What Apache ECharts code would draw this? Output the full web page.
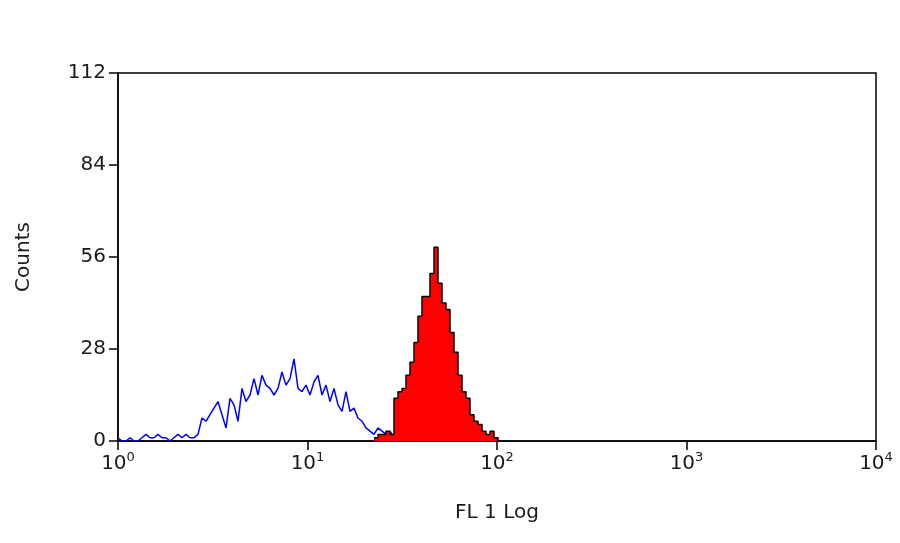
<!DOCTYPE html>
<html><head><meta charset="utf-8">
<script src="https://cdn.jsdelivr.net/npm/echarts@6/dist/echarts.min.js"></script>
<style>html,body{margin:0;padding:0;background:#fff}#c{width:900px;height:543px}</style>
</head><body><div id="c"></div>
<script>
// histogram channels: uniform in log10 space
const binStep = 4/189.5;          // decades per channel
const blueStartBin = 0;
const redStartBin = 64;
const blueCounts = [1,0,0,1,0,0,1,2,1,1,2,1,1,0,1,2,1,2,1,1,
 2,7,6,8,10,12,8,4,13,11,6,16,12,14,19,14,20,17,16,14,16,21,17,19,25,16,15,17,14,18,20,14,17,12,16,11,9,15,9,10,7,6,4,3,2,4,3,2,3,1,1,2,0,0,1,0];
const redCounts = [1,2,2,3,2,13,15,16,20,24,30,38,44,44,51,59,48,42,40,33,27,20,15,13,8,6,5,3,2,3,1,0];
const yTicks = [0,28,56,84,112];
const xDecades = [0,1,2,3,4];

const toPts = (arr, start) => arr.map((v,i)=>[Math.pow(10,(start+i)*binStep), v]);
const chart = echarts.init(document.getElementById('c'));
const F = 'DejaVu Sans, sans-serif';
const C = '#1a1a1a';
chart.setOption({
  animation:false,
  grid:{left:118,right:24,top:73,bottom:102,show:true,borderColor:'#000',borderWidth:1.5},
  xAxis:{type:'log',logBase:10,min:1,max:10000,
    name:'FL 1 Log',nameLocation:'middle',nameGap:62,nameTextStyle:{fontFamily:F,fontSize:20,color:C},
    axisLine:{lineStyle:{color:'#000',width:1.5}},
    axisTick:{inside:false,length:9,lineStyle:{color:'#000',width:1.5}},
    minorTick:{show:false},splitLine:{show:false},
    axisLabel:{margin:10,formatter:v=>'{b|10}{s|'+Math.round(Math.log10(v))+'}',
      rich:{b:{fontFamily:F,fontSize:20,color:C},s:{fontFamily:F,fontSize:13,color:C,verticalAlign:'top',padding:[0,0,12,0]}}}},
  yAxis:{type:'value',min:yTicks[0],max:yTicks[yTicks.length-1],interval:28,
    name:'Counts',nameLocation:'middle',nameGap:84,nameRotate:90,nameTextStyle:{fontFamily:F,fontSize:20,color:C},
    axisLine:{show:true,lineStyle:{color:'#000',width:1.5}},
    axisTick:{show:true,length:9,lineStyle:{color:'#000',width:1.5}},
    splitLine:{show:false},
    axisLabel:{fontFamily:F,fontSize:20,color:C,margin:12}},
  series:[
    {type:'line',symbol:'none',data:toPts(blueCounts,blueStartBin),
      lineStyle:{color:'#0000ff',width:1.5},z:2},
    {type:'line',step:'end',symbol:'none',data:toPts(redCounts,redStartBin),
      lineStyle:{color:'#000',width:1.5},areaStyle:{color:'#ff0000',opacity:1},z:3}
  ]
});
</script></body></html>
